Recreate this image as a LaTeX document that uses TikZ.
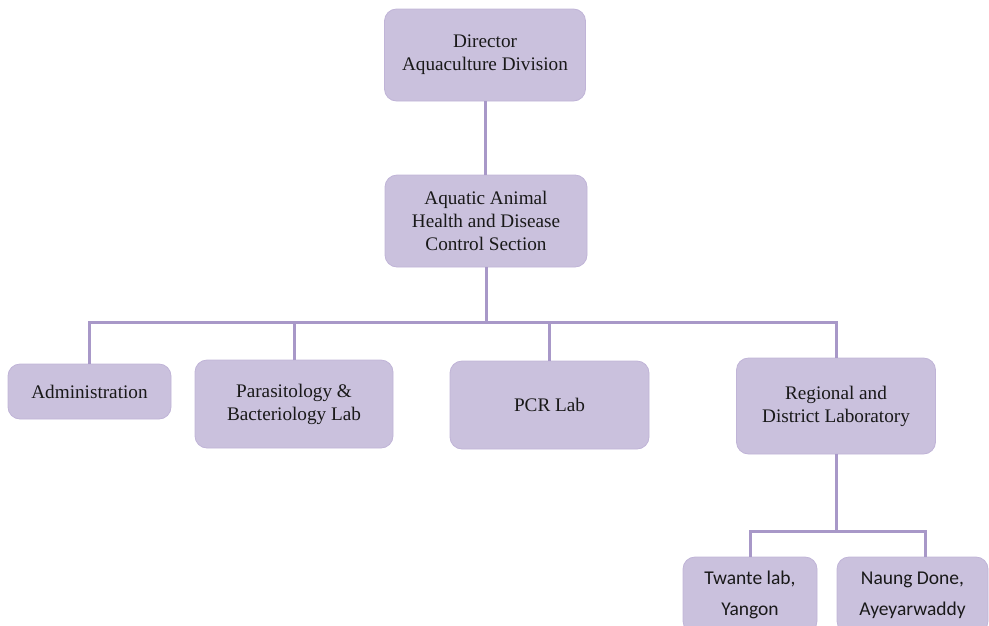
\documentclass[tikz,border=0pt]{standalone}
\usepackage{fontspec}
\setmainfont{Liberation Serif}
\newfontfamily\labfont{Carlito}
\definecolor{boxfill}{HTML}{CAC1DD}
\definecolor{boxedge}{HTML}{C0B4D7}
\definecolor{wirecol}{HTML}{A898C8}
\begin{document}
\begin{tikzpicture}[x=1pt,y=-1pt,
  unit/.style={draw=boxedge, line width=0.8pt, fill=boxfill, rounded corners=12pt,
    align=center, font=\fontsize{19.2}{23}\selectfont, text=black!90, inner sep=0pt},
  labunit/.style={unit, font=\labfont\fontsize{19.5}{31}\selectfont},
  wire/.style={draw=wirecol, line width=3pt}]
\useasboundingbox (0,0) rectangle (989,625);
\clip (0,0) rectangle (989,625);

% boxes
\node[unit, minimum width=201, minimum height=92] (dir) at (485,55) {Director\\Aquaculture Division};
\node[unit, minimum width=202, minimum height=92] (aq) at (486,221) {Aquatic Animal\\Health and Disease\\Control Section};
\node[unit, minimum width=163, minimum height=55] (adm) at (89.5,391.5) {Administration};
\node[unit, minimum width=198, minimum height=88] (para) at (294,404) {Parasitology \&\\Bacteriology Lab};
\node[unit, minimum width=199, minimum height=88] (pcr) at (549.5,405) {PCR Lab};
\node[unit, minimum width=199, minimum height=96] (reg) at (836,406) {Regional and\\District Laboratory};
\node[labunit, minimum width=134, minimum height=76] (tw) at (750,595) {Twante lab,\\Yangon};
\node[labunit, minimum width=151, minimum height=76] (nd) at (912.5,595) {Naung Done,\\Ayeyarwaddy};

% connectors
\coordinate (bus) at (0,322);
\coordinate (bus2) at (0,531);
\draw[wire] (dir.south) -- (dir.south |- aq.north);
\draw[wire] (aq.south) -- (aq.south |- bus);
\draw[wire] (adm.north) -- (adm.north |- bus) -| (reg.north);
\draw[wire] (para.north) -- (para.north |- bus);
\draw[wire] (pcr.north) -- (pcr.north |- bus);
\draw[wire] (reg.south) -- (reg.south |- bus2);
\draw[wire] (tw.north) -- (tw.north |- bus2) -| ([xshift=12.5pt]nd.north);
\end{tikzpicture}
\end{document}
